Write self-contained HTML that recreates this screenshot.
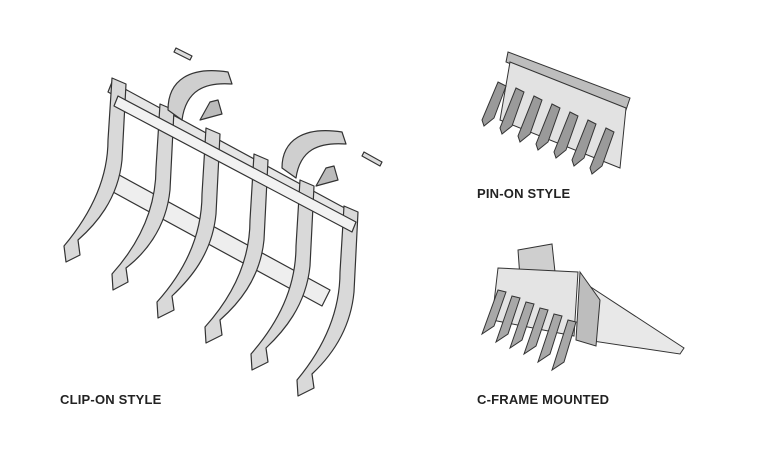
<!DOCTYPE html>
<html><head><style>
html,body{margin:0;padding:0;background:#fff;}
.wrap{position:relative;width:768px;height:462px;overflow:hidden;background:#fff;}
.lbl{position:absolute;font-family:"Liberation Sans",sans-serif;font-weight:bold;font-size:13px;color:#222;letter-spacing:0.2px;}
svg{position:absolute;left:0;top:0;}
</style></head><body><div class="wrap">
<svg width="768" height="462" viewBox="0 0 768 462">
<g stroke="#333" stroke-width="1.2" stroke-linejoin="round">
<!-- back bar -->
<path d="M112 82 L352 212 L348 222 L108 92 Z" fill="#e6e6e6"/>
<!-- cross tube -->
<path d="M110 170 L330 290 L322 306 L102 186 Z" fill="#eeeeee"/>
<!-- tines -->
<g fill="#d9d9d9">
<path d="M112 78 L126 84 L122 160 C118 200 95 225 78 240 L80 255 L66 262 L64 246 C90 215 108 180 108 140 Z"/>
<path d="M160 104 L174 110 L170 190 C166 230 143 255 126 268 L128 282 L113 290 L112 274 C138 245 156 210 156 168 Z"/>
<path d="M206 128 L220 134 L216 214 C212 255 189 280 172 296 L174 310 L158 318 L157 302 C184 272 202 236 202 194 Z"/>
<path d="M254 154 L268 160 L264 240 C260 280 237 305 220 320 L222 335 L206 343 L205 327 C232 297 250 262 250 220 Z"/>
<path d="M300 180 L314 186 L310 266 C306 306 283 332 266 348 L268 362 L252 370 L251 354 C278 323 296 288 296 246 Z"/>
<path d="M344 206 L358 212 L354 292 C350 334 327 360 312 374 L314 388 L298 396 L297 380 C322 350 340 314 340 272 Z"/>
</g>
<!-- top bar -->
<path d="M118 96 L356 222 L352 232 L114 106 Z" fill="#f2f2f2"/>
<!-- brackets -->
<path d="M168 110 C168 80 190 66 228 72 L232 84 C205 82 186 90 182 120 Z" fill="#cfcfcf"/>
<path d="M282 168 C282 140 304 126 342 132 L346 144 C318 142 300 150 296 178 Z" fill="#cfcfcf"/>
<path d="M200 120 L222 114 L218 100 L210 102 Z" fill="#bbb"/>
<path d="M316 186 L338 180 L334 166 L326 168 Z" fill="#bbb"/>
<path d="M176 48 L192 56 L190 60 L174 52 Z" fill="#ddd"/>
<path d="M364 152 L382 162 L380 166 L362 156 Z" fill="#ddd"/>
</g>
<!-- pin-on -->
<g stroke="#333" stroke-width="1" fill="#cfcfcf">
<path d="M508 52 L630 98 L626 110 L506 62 Z" fill="#bdbdbd"/>
<path d="M510 62 L626 108 L620 168 L500 120 Z" fill="#e2e2e2"/>
<g fill="#9a9a9a">
<path d="M498 82 L506 86 L494 118 L484 126 L482 120 Z"/>
<path d="M516 88 L524 92 L512 126 L502 134 L500 128 Z"/>
<path d="M534 96 L542 100 L530 134 L520 142 L518 136 Z"/>
<path d="M552 104 L560 108 L548 142 L538 150 L536 144 Z"/>
<path d="M570 112 L578 116 L566 150 L556 158 L554 152 Z"/>
<path d="M588 120 L596 124 L584 158 L574 166 L572 160 Z"/>
<path d="M606 128 L614 132 L602 166 L592 174 L590 168 Z"/>
</g>
</g>
<!-- c-frame -->
<g stroke="#333" stroke-width="1" fill="#d9d9d9">
<path d="M518 250 L552 244 L555 272 L520 278 Z" fill="#cfcfcf"/>
<path d="M498 268 L578 272 L574 336 L492 320 Z" fill="#e4e4e4"/>
<path d="M580 280 L684 348 L680 354 L586 340 Z" fill="#e8e8e8"/>
<path d="M580 272 L600 300 L596 346 L576 340 Z" fill="#bdbdbd"/>
<g fill="#a8a8a8">
<path d="M498 290 L506 292 L494 326 L482 334 Z"/>
<path d="M512 296 L520 298 L508 334 L496 342 Z"/>
<path d="M526 302 L534 304 L522 340 L510 348 Z"/>
<path d="M540 308 L548 310 L536 346 L524 354 Z"/>
<path d="M554 314 L562 316 L550 354 L538 362 Z"/>
<path d="M568 320 L576 322 L564 362 L552 370 Z"/>
</g>
</g>
</svg>
<div class="lbl" style="left:60px;top:392px;">CLIP-ON STYLE</div>
<div class="lbl" style="left:477px;top:186px;">PIN-ON STYLE</div>
<div class="lbl" style="left:477px;top:392px;">C-FRAME MOUNTED</div>
</div></body></html>
